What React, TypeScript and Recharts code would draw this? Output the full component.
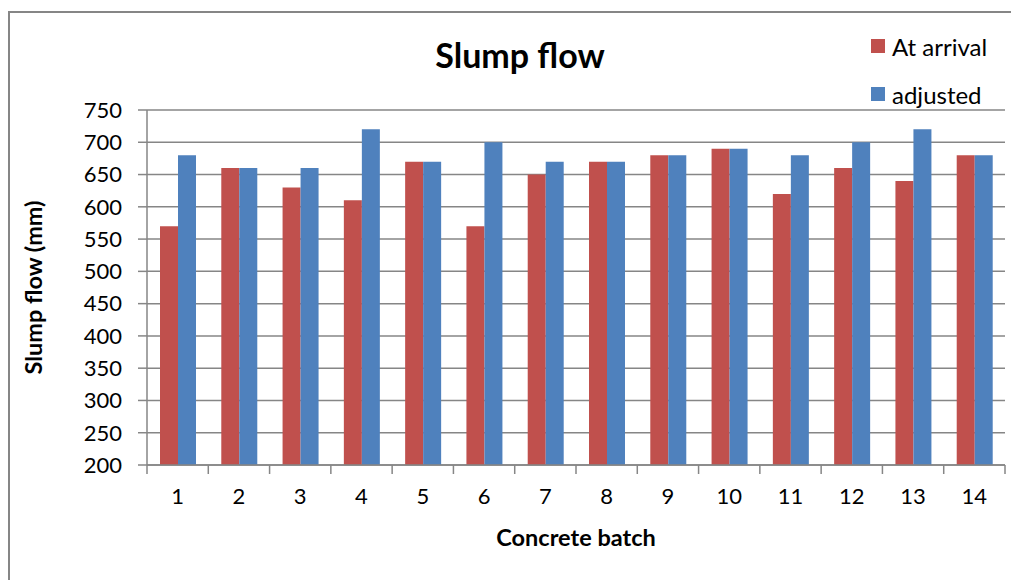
import React from "react";
import { BarChart, Bar, XAxis, YAxis, CartesianGrid, Label } from "recharts";

const batches = ["1", "2", "3", "4", "5", "6", "7", "8", "9", "10", "11", "12", "13", "14"];
const atArrival = [570, 660, 630, 610, 670, 570, 650, 670, 680, 690, 620, 660, 640, 680];
const adjusted = [680, 660, 660, 720, 670, 700, 670, 670, 680, 690, 680, 700, 720, 680];
const yTicks = [200, 250, 300, 350, 400, 450, 500, 550, 600, 650, 700, 750];

const data = batches.map((b, i) => ({ batch: b, arrival: atArrival[i], adjusted: adjusted[i] }));

const FONT = "Lato, 'Open Sans', sans-serif";
const GRAY = "#868686";
const RED = "#C0504D";
const BLUE = "#4F81BD";

const W = 1011;
const H = 572;

const XTick = (props: any) => {
  const { x, y, payload, index, visibleTicksCount } = props;
  const half = payload && payload.offset ? payload.offset : 30.64;
  const ay = y - 8;
  return (
    <g>
      <line x1={x - half} y1={ay} x2={x - half} y2={ay + 9} stroke={GRAY} strokeWidth={1.5} />
      {index === visibleTicksCount - 1 && (
        <line x1={x + half} y1={ay} x2={x + half} y2={ay + 9} stroke={GRAY} strokeWidth={1.5} />
      )}
      <text x={x} y={y + 31} textAnchor="middle" fontSize={22} fontFamily={FONT} fill="#000">
        {payload.value}
      </text>
    </g>
  );
};

const legendItems = [
  { c: RED, t: "At arrival" },
  { c: BLUE, t: "adjusted" },
];

export default function App() {
  return (
    <div style={{ position: "relative", width: W, height: H }}>
      <div
        style={{
          position: "absolute",
          left: 0,
          top: 3,
          width: W,
          height: H - 3,
          borderTop: `2px solid ${GRAY}`,
          borderLeft: `2px solid ${GRAY}`,
          boxSizing: "border-box",
        }}
      />
      <div
        style={{
          position: "absolute",
          left: 512 - 200,
          top: 26,
          width: 400,
          textAlign: "center",
          fontFamily: FONT,
          fontWeight: 700,
          fontSize: 34,
          lineHeight: "42px",
          color: "#000",
        }}
      >
        Slump flow
      </div>
      <div style={{ position: "absolute", left: 863, top: 24, fontFamily: FONT, fontSize: 24, color: "#000" }}>
        {legendItems.map((e, i) => (
          <div key={i} style={{ display: "flex", alignItems: "center", height: 28, marginBottom: i === 0 ? 20 : 0 }}>
            <span style={{ display: "inline-block", width: 14, height: 14, background: e.c, marginRight: 7 }} />
            <span>{e.t}</span>
          </div>
        ))}
      </div>
      <BarChart
        width={W}
        height={H}
        data={data}
        margin={{ top: 102, right: 14, bottom: 0, left: 0 }}
        barCategoryGap={13}
        barGap={0}
      >
        <CartesianGrid vertical={false} stroke={GRAY} strokeWidth={1.5} />
        <XAxis
          dataKey="batch"
          height={115}
          stroke={GRAY}
          strokeWidth={1.5}
          tickLine={false}
          tick={<XTick />}
          interval={0}
        >
          <Label
            value="Concrete batch"
            position="insideBottom"
            offset={34}
            style={{ fontFamily: FONT, fontWeight: 700, fontSize: 23.5, fill: "#000" }}
          />
        </XAxis>
        <YAxis
          width={139}
          domain={[200, 750]}
          ticks={yTicks}
          interval={0}
          stroke={GRAY}
          strokeWidth={1.5}
          tickSize={9}
          tickMargin={16}
          tick={{ fontFamily: FONT, fontSize: 22, fill: "#000" }}
        >
          <Label
            value="Slump flow (mm)"
            angle={-90}
            position="insideLeft"
            offset={26}
            style={{ fontFamily: FONT, fontWeight: 700, fontSize: 23.5, fill: "#000", textAnchor: "middle" }}
          />
        </YAxis>
        <Bar dataKey="arrival" name="At arrival" fill={RED} isAnimationActive={false} />
        <Bar dataKey="adjusted" name="adjusted" fill={BLUE} isAnimationActive={false} />
      </BarChart>
    </div>
  );
}
